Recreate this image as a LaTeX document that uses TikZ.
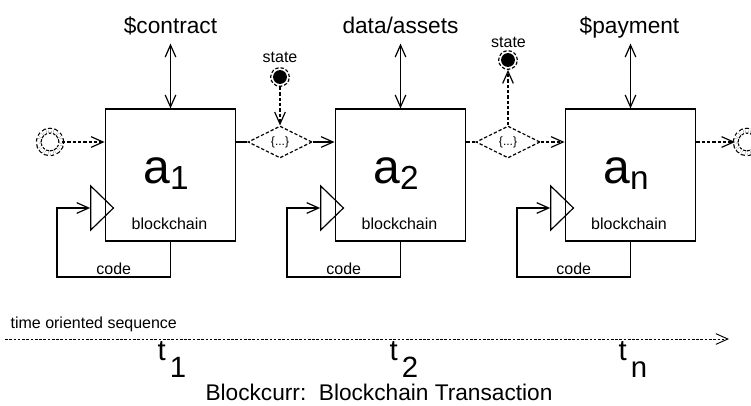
\documentclass[tikz,border=0pt]{standalone}
\usepackage{fontspec}
\setmainfont{Liberation Sans}
\usetikzlibrary{arrows.meta, calc, positioning, shapes.geometric}
\newcommand{\actor}[1]{a\raisebox{-4.5pt}{\fontsize{25}{25}\selectfont #1}}
\newcommand{\tstep}[1]{t\hspace{3pt}\raisebox{-12.75pt}{#1}}

\begin{document}
\begin{tikzpicture}[x=0.75pt, y=-0.75pt, line width=0.9pt,
  >={Straight Barb[length=9pt, width=8pt]},
  dashy/.style={dash pattern=on 2.5pt off 1.5pt},
  block/.style={draw, minimum width=98pt, minimum height=99pt, inner sep=0pt},
  gate/.style={diamond, draw, dashy, aspect=2, minimum width=48pt, minimum height=24pt, inner sep=0pt, font=\fontsize{9}{9}\selectfont},
  clk/.style={isosceles triangle, isosceles triangle stretches, draw, minimum width=33pt, minimum height=17pt, inner sep=0pt},
  ring/.style={circle, draw, dashy, double, double distance=2.6pt, minimum size=17pt, inner sep=0pt},
  statedot/.style={circle, draw, dashy, minimum size=14pt, inner sep=0pt,
    path picture={\fill (path picture bounding box.center) circle (5.2pt);}},
  toplabel/.style={font=\fontsize{17}{17}\selectfont, inner sep=0pt, text depth=7.5pt},
  small/.style={font=\fontsize{12}{12}\selectfont, inner sep=0pt},
  bigname/.style={font=\fontsize{36}{36}\selectfont, inner sep=0pt},
  tick/.style={font=\fontsize{22}{22}\selectfont, inner sep=0pt}]
  \useasboundingbox (0,0) rectangle (751,405);

  % blocks
  \node[block] (a1) at (170.5,175) {};
  \node[block] (a2) at (400.5,175) {};
  \node[block] (an) at (630.5,175) {};
  \node[bigname, anchor=base] (n1) at (166,183) {\actor{1}};
  \node[bigname, anchor=base] (n2) at (396,183) {\actor{2}};
  \node[bigname, anchor=base] (nn) at (626,183) {\actor{n}};
  \node[small, anchor=base] (b1) at (169.5,229) {blockchain};
  \node[small, anchor=base] (b2) at (399.5,229) {blockchain};
  \node[small, anchor=base] (bn) at (629,229) {blockchain};

  % inputs from above
  \node[toplabel, anchor=base] (contract) at (170.5,33) {\$contract};
  \node[toplabel, anchor=base] (assets) at (400.5,33) {data/assets};
  \node[toplabel, anchor=base] (payment) at (629.5,33) {\$payment};
  \draw[<->] (contract.south -| a1.north) -- (a1.north);
  \draw[<->] (assets.south -| a2.north) -- (a2.north);
  \draw[<->] (payment.south -| an.north) -- (an.north);

  % code loops
  \foreach \b/\x in {a1/105, a2/335, an/565}{
    \node[clk, anchor=apex] (k\b) at (\x+10,208) {};
    \coordinate (l\b) at (\x-48,277);
    \draw[->] (\b.south) |- (l\b) |- (k\b.west);
    \node[small, anchor=base] (c\b) at ($(l\b)!0.5!(\b.south |- l\b)+(0,-3)$) {code};
  }

  % states
  \node[gate] (d1) at (280,142) {\{...\}};
  \node[gate] (d2) at (508,142) {\{...\}};
  \node[statedot] (s1) at (280,77) {};
  \node[statedot] (s2) at (508,60) {};
  \node[small, anchor=base] (st1) at (280,62) {state};
  \node[small, anchor=base] (st2) at (508.5,47) {state};
  \draw[dashy, ->] (s1) -- (d1.north);
  \draw[dashy, ->] (d2.north) -- (s2);

  % chain
  \node[ring] (start) at (50,142) {};
  \node[ring] (stop) at (747,142) {};
  \draw[dashy, ->] (start.east) -- (start.east -| a1.west);
  \draw (d1.west -| a1.east) -- (d1.west);
  \draw[->] (d1.east) -- (d1.east -| a2.west);
  \draw[dashy] (d2.west -| a2.east) -- (d2.west);
  \draw[dashy, ->] (d2.east) -- (d2.east -| an.west);
  \draw[dashy, ->] (stop.west -| an.east) -- (stop.west);

  % time line
  \coordinate (t0) at (5,339);
  \coordinate (t9) at (729,339);
  \draw[dash pattern=on 2pt off 1.2pt, line width=0.7pt, ->] (t0) -- (t9);
  \node[small, anchor=base west] (seq) at (10,328) {time oriented sequence};
  \node[tick, anchor=base west] (t1) at (157,360) {\tstep{1}};
  \node[tick, anchor=base west] (t2) at (389,360) {\tstep{2}};
  \node[tick, anchor=base west] (tn) at (618,360) {\tstep{n}};
  \node[font=\fontsize{17}{17}\selectfont, inner sep=0pt, anchor=base] (title) at (379,400) {Blockcurr:\ \ Blockchain Transaction};
\end{tikzpicture}
\end{document}
